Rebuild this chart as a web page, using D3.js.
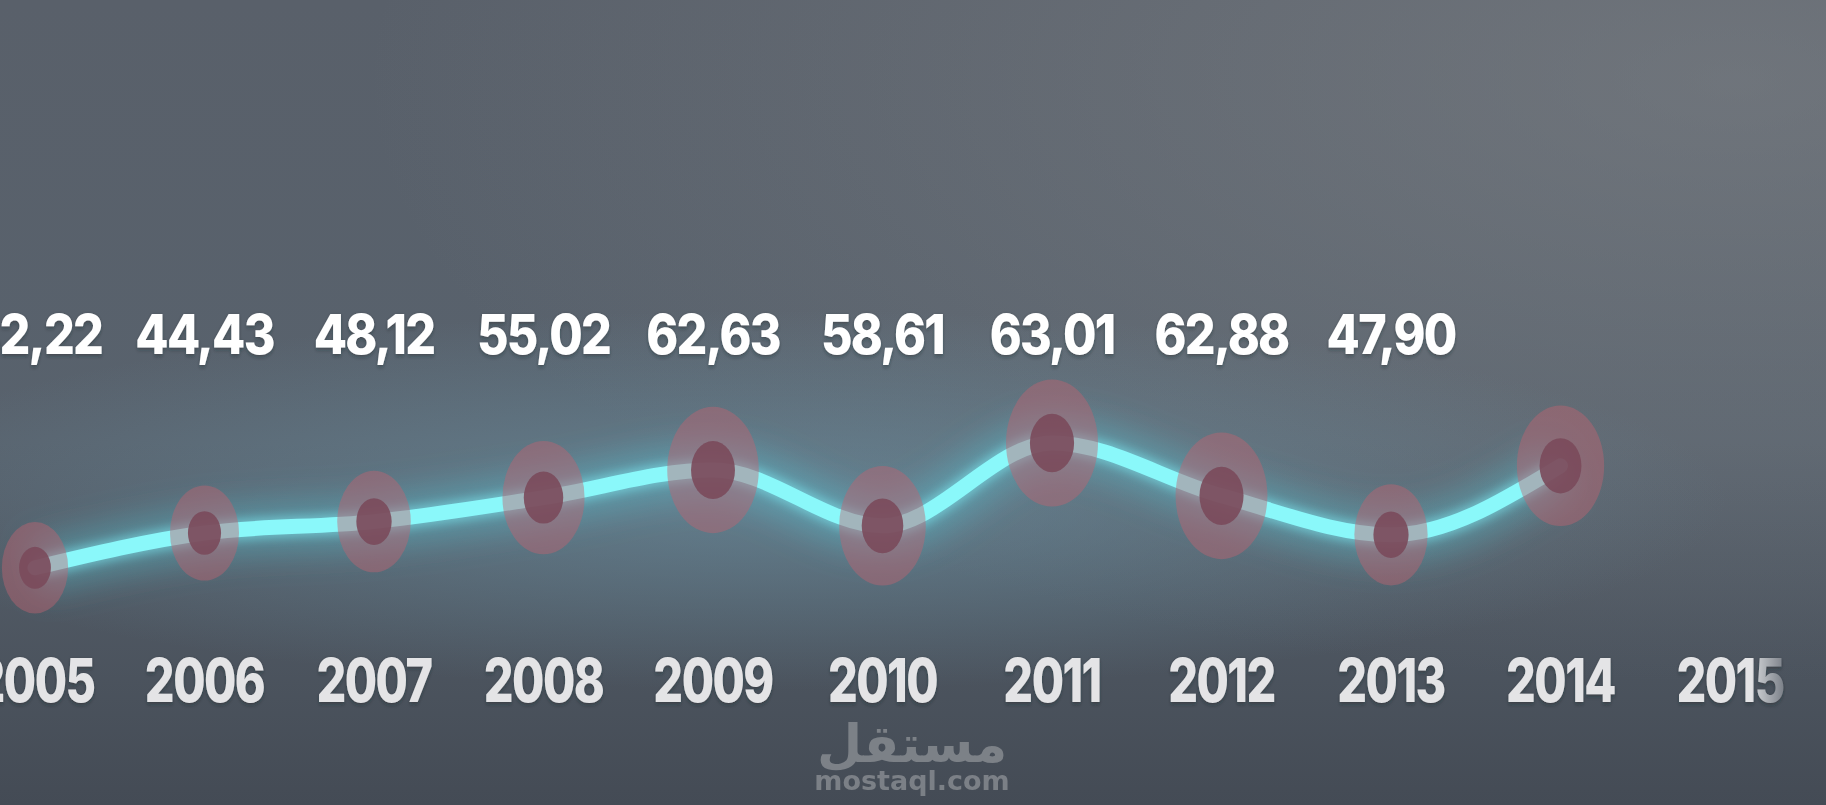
<!DOCTYPE html>
<html>
<head>
<meta charset="utf-8">
<script src="https://cdn.jsdelivr.net/npm/d3@7"></script>
<style>
  html, body { margin: 0; padding: 0; background: #525963; overflow: hidden; }
  svg { display: block; }
</style>
</head>
<body>
<svg id="chart" width="1826" height="805"></svg>
<script>
// ---- data ----
const years = ["2005", "2006", "2007", "2008", "2009", "2010", "2011", "2012", "2013", "2014", "2015"];
// value labels shown above the line (2014, 2015 not yet revealed)
const values = [42.22, 44.43, 48.12, 55.02, 62.63, 58.61, 63.01, 62.88, 47.90, null, null];
// heights at which the points are drawn
const levels = [42.2, 48.0, 49.9, 53.9, 58.5, 49.2, 63.0, 54.2, 47.7, 59.2, null];

const W = 1826, H = 805;
const svg = d3.select("#chart");
const defs = svg.append("defs");

// ---- background ----
const bg = defs.append("linearGradient").attr("id", "bgV").attr("x1", 0).attr("y1", 0).attr("x2", 0).attr("y2", 1);
bg.append("stop").attr("offset", 0).attr("stop-color", "#59606a");
bg.append("stop").attr("offset", 0.55).attr("stop-color", "#58626d");
bg.append("stop").attr("offset", 1).attr("stop-color", "#444b55");
svg.append("rect").attr("width", W).attr("height", H).attr("fill", "url(#bgV)");

const hz = defs.append("radialGradient").attr("id", "haze").attr("cx", 0.95).attr("cy", 0.1).attr("r", 0.75);
hz.append("stop").attr("offset", 0).attr("stop-color", "#8a8d90").attr("stop-opacity", 0.45);
hz.append("stop").attr("offset", 1).attr("stop-color", "#8a8d90").attr("stop-opacity", 0);
svg.append("rect").attr("width", W).attr("height", H).attr("fill", "url(#haze)");

const glowBg = defs.append("radialGradient").attr("id", "blueGlow").attr("cx", 0.5).attr("cy", 0.5).attr("r", 0.5);
glowBg.append("stop").attr("offset", 0).attr("stop-color", "#6f9aad").attr("stop-opacity", 0.55);
glowBg.append("stop").attr("offset", 1).attr("stop-color", "#6f9aad").attr("stop-opacity", 0);
svg.append("ellipse").attr("cx", 780).attr("cy", 500).attr("rx", 950).attr("ry", 190).attr("fill", "url(#blueGlow)");

// ---- scales ----
const x = d3.scaleLinear().domain([0, years.length - 1]).range([35, 1730]);
const y = d3.scaleLinear().domain([40, 65]).range([581, 431]);
const rScale = d3.scaleLinear().domain([42, 63]).range([33, 46]).clamp(true);

const pts = years.map((yr, i) => ({ yr, i, value: values[i], level: levels[i] }));
const linePts = pts.filter(d => d.level != null);

// ---- filters ----
const f1 = defs.append("filter").attr("id", "lineGlow").attr("x", "-20%").attr("y", "-200%").attr("width", "140%").attr("height", "500%");
f1.append("feGaussianBlur").attr("stdDeviation", 16);
const f2 = defs.append("filter").attr("id", "lineSoft").attr("x", "-10%").attr("y", "-100%").attr("width", "120%").attr("height", "300%");
f2.append("feGaussianBlur").attr("stdDeviation", 4);
const f3 = defs.append("filter").attr("id", "shadow").attr("x", "-20%").attr("y", "-40%").attr("width", "140%").attr("height", "180%");
f3.append("feDropShadow").attr("dx", 0).attr("dy", 2).attr("stdDeviation", 2).attr("flood-color", "#1d2228").attr("flood-opacity", 0.4);

// ---- line ----
const line = d3.line().x(d => x(d.i)).y(d => y(d.level)).curve(d3.curveMonotoneX);
svg.append("path").datum(linePts).attr("d", line).attr("fill", "none")
  .attr("stroke", "#56d6e6").attr("stroke-width", 50).attr("stroke-opacity", 0.35)
  .attr("filter", "url(#lineGlow)");
svg.append("path").datum(linePts).attr("d", line).attr("fill", "none")
  .attr("stroke", "#7fe9f2").attr("stroke-width", 22).attr("stroke-opacity", 0.5)
  .attr("filter", "url(#lineSoft)");
svg.append("path").datum(linePts).attr("d", line).attr("fill", "none")
  .attr("stroke", "#8af8fa").attr("stroke-width", 15).attr("stroke-linecap", "round");

// ---- markers ----
const g = svg.append("g");
const marks = g.selectAll("g.m").data(linePts).join("g").attr("class", "m")
  .attr("transform", d => `translate(${x(d.i)},${y(d.level)})`);
marks.append("ellipse")
  .attr("rx", d => rScale(d.value ?? d.level))
  .attr("ry", d => rScale(d.value ?? d.level) * 1.38)
  .attr("fill", "#be6472").attr("fill-opacity", 0.45);
marks.append("ellipse")
  .attr("rx", d => rScale(d.value ?? d.level) * 0.48)
  .attr("ry", d => rScale(d.value ?? d.level) * 0.48 * 1.32)
  .attr("fill", "#7a4a5b").attr("fill-opacity", 0.9);

// ---- value labels ----
const loc = d3.formatLocale({ decimal: ",", thousands: ".", grouping: [3], currency: ["", ""] });
const fmt = loc.format(".2f");
svg.append("g").selectAll("text").data(pts.filter(d => d.value != null)).join("text")
  .attr("transform", d => `translate(${x(d.i)},354) scale(0.88,1)`)
  .attr("text-anchor", "middle")
  .attr("font-family", "Inter, 'Open Sans', Lato, sans-serif")
  .attr("font-weight", 800)
  .attr("font-size", 55)
  .attr("letter-spacing", -2)
  .attr("fill", "#ffffff")
  .attr("filter", "url(#shadow)")
  .text(d => fmt(d.value));

// ---- year labels (axis) ----
const fade = defs.append("linearGradient").attr("id", "fadeEnd").attr("x1", 0).attr("x2", 1).attr("y1", 0).attr("y2", 0);
fade.append("stop").attr("offset", 0.7).attr("stop-color", "#e4e4e6");
fade.append("stop").attr("offset", 0.76).attr("stop-color", "#c4c7cb");
fade.append("stop").attr("offset", 1).attr("stop-color", "#7c8189");

svg.append("g").selectAll("text").data(pts).join("text")
  .attr("transform", d => `translate(${x(d.i)},702) scale(0.78,1)`)
  .attr("text-anchor", "middle")
  .attr("font-family", "Inter, 'Open Sans', Lato, sans-serif")
  .attr("font-weight", 800)
  .attr("font-size", 60)
  .attr("letter-spacing", -2)
  .attr("fill", d => d.i === years.length - 1 ? "url(#fadeEnd)" : "#e4e4e6")
  .attr("filter", "url(#shadow)")
  .text(d => d.yr);

// ---- watermark ----
const wm = svg.append("g").attr("opacity", 0.75);
wm.append("text").attr("x", 912).attr("y", 762).attr("text-anchor", "middle")
  .attr("font-family", "'DejaVu Sans', 'Noto Sans', sans-serif").attr("font-weight", 700)
  .attr("font-size", 52).attr("fill", "#8e9297").text("مستقل");
wm.append("text").attr("x", 912).attr("y", 790).attr("text-anchor", "middle")
  .attr("font-family", "'DejaVu Sans', 'Noto Sans', sans-serif").attr("font-weight", 700)
  .attr("font-size", 27).attr("fill", "#8e9297").text("mostaql.com");
</script>
</body>
</html>
